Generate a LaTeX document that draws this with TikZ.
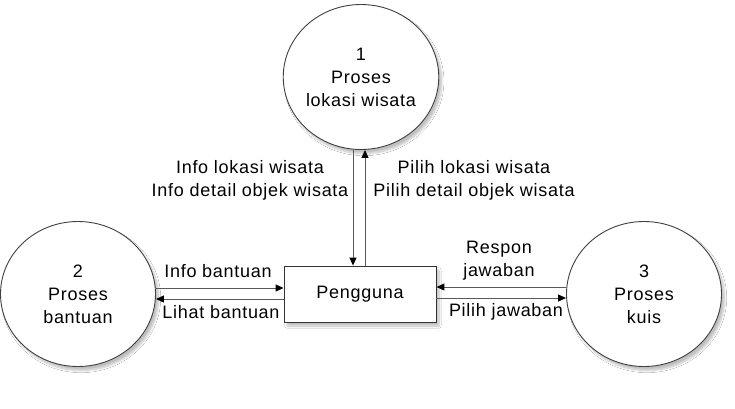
\documentclass[tikz,border=0pt]{standalone}
\usepackage{fontspec}
\setmainfont{Liberation Sans}[LetterSpace=4]
\usetikzlibrary{shapes.geometric,arrows.meta,shadows.blur}
\begin{document}
\begin{tikzpicture}[x=1pt,y=-1pt,
  every node/.style={font=\fontsize{18pt}{23pt}\selectfont, align=center, inner sep=0pt},
  proc/.style={ellipse, draw=black!75, line width=0.9pt, fill=white, minimum width=155pt, minimum height=145pt,
    blur shadow={shadow xshift=3pt, shadow yshift=-4pt, shadow opacity=25, shadow blur steps=8}},
  ent/.style={rectangle, draw=black!80, line width=0.9pt, fill=white, minimum width=152pt, minimum height=56pt,
    blur shadow={shadow xshift=3pt, shadow yshift=-4pt, shadow opacity=25, shadow blur steps=8}},
  flow/.style={draw=black!65, line width=1pt, -{Triangle[length=8pt,width=7pt,fill=black,color=black]}},
  lbl/.style={fill=none}
]
\useasboundingbox[fill=white] (0,0) rectangle (735,408);

\node[proc] (p1) at (361,77) {1\\Proses\\lokasi wisata};
\node[proc] (p2) at (78,294) {2\\Proses\\bantuan};
\node[proc] (p3) at (644,294) {3\\Proses\\kuis};
\node[ent] (u) at (360,294) {Pengguna};

% vertical flows
\draw[flow] ([xshift=-8pt]p1.south) -- ([xshift=-7pt]u.north);
\draw[flow] ([xshift=5pt]u.north) -- ([xshift=4pt]p1.south);

% left flows
\draw[flow] ([yshift=6pt]p2.east) -- ([yshift=6pt]u.west);
\draw[flow] ([yshift=-5pt]u.west) -- ([yshift=-5pt]p2.east);

% right flows
\draw[flow] ([yshift=7pt]p3.west) -- ([yshift=7pt]u.east);
\draw[flow] ([yshift=-4pt]u.east) -- ([yshift=-4pt]p3.west);

% labels
\node[lbl] (l1) at (250,180.5) {Info lokasi wisata\\Info detail objek wisata};
\node[lbl] (l2) at (474,180.5) {Pilih lokasi wisata\\Pilih detail objek wisata};
\node[lbl] (l3) at (218,271) {Info bantuan};
\node[lbl] (l4) at (221,312) {Lihat bantuan};
\node[lbl] (l5) at (499,260.5) {Respon\\jawaban};
\node[lbl] (l6) at (506,312) {Pilih jawaban};
\end{tikzpicture}
\end{document}
